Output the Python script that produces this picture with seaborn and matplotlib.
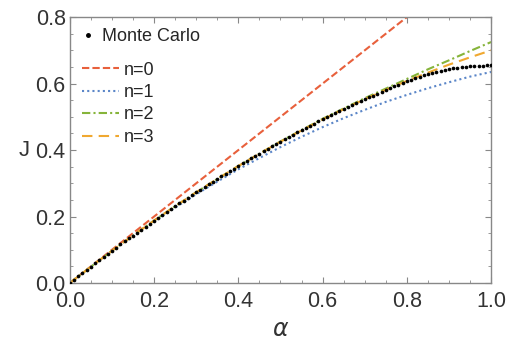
import seaborn as sns
import matplotlib.pyplot as plt
import pandas as pd
from matplotlib.ticker import MultipleLocator
from matplotlib.lines import Line2D

# Monte Carlo points (alpha step 0.01)
alpha_mc = [i / 100 for i in range(101)]
j_mc = [0.000, 0.010, 0.020, 0.030, 0.040, 0.049, 0.059, 0.069, 0.078, 0.088,
        0.097, 0.106, 0.116, 0.125, 0.134, 0.143, 0.152, 0.161, 0.170, 0.179,
        0.188, 0.197, 0.205, 0.214, 0.223, 0.231, 0.240, 0.248, 0.256, 0.265,
        0.273, 0.281, 0.289, 0.297, 0.305, 0.313, 0.321, 0.329, 0.337, 0.344,
        0.352, 0.360, 0.367, 0.375, 0.382, 0.389, 0.397, 0.404, 0.411, 0.418,
        0.425, 0.432, 0.439, 0.446, 0.453, 0.459, 0.466, 0.473, 0.479, 0.486,
        0.492, 0.498, 0.505, 0.511, 0.517, 0.523, 0.529, 0.535, 0.541, 0.547,
        0.553, 0.559, 0.564, 0.570, 0.576, 0.581, 0.587, 0.592, 0.597, 0.603,
        0.608, 0.612, 0.617, 0.621, 0.625, 0.629, 0.633, 0.636, 0.639, 0.642,
        0.644, 0.646, 0.648, 0.650, 0.651, 0.652, 0.653, 0.654, 0.654, 0.655,
        0.655]

# approximations n=0..3 (alpha step 0.05)
alpha = [0.00, 0.05, 0.10, 0.15, 0.20, 0.25, 0.30, 0.35, 0.40, 0.45, 0.50,
         0.55, 0.60, 0.65, 0.70, 0.75, 0.80, 0.85, 0.90, 0.95, 1.00]
j_n0 = [0.00, 0.05, 0.10, 0.15, 0.20, 0.25, 0.30, 0.35, 0.40, 0.45, 0.50,
        0.55, 0.60, 0.65, 0.70, 0.75, 0.80, 0.85, 0.90, 0.95, 1.00]
j_n1 = [0.000, 0.049, 0.096, 0.142, 0.185, 0.227, 0.267, 0.305, 0.342, 0.376,
        0.409, 0.440, 0.469, 0.496, 0.521, 0.545, 0.566, 0.586, 0.604, 0.621, 0.635]
j_n2 = [0.000, 0.049, 0.097, 0.143, 0.188, 0.231, 0.273, 0.313, 0.352, 0.389,
        0.426, 0.460, 0.494, 0.525, 0.556, 0.585, 0.614, 0.643, 0.670, 0.698, 0.725]
j_n3 = [0.000, 0.049, 0.097, 0.143, 0.188, 0.231, 0.273, 0.313, 0.352, 0.389,
        0.425, 0.459, 0.492, 0.523, 0.553, 0.581, 0.608, 0.633, 0.657, 0.679, 0.700]

labels = ["n=0", "n=1", "n=2", "n=3"]
colors = ["#e8603c", "#5b86c8", "#86b43a", "#f0a830"]
dashes = [(3.5, 1.5), (1, 1.5), (4, 1.5, 1, 1.5), (5, 3)]

sns.set_style("ticks")
plt.rcParams['font.family'] = ['Liberation Sans', 'DejaVu Sans']

fig = plt.figure(figsize=(5.17, 3.49), dpi=100)
ax = fig.add_axes([0.135, 0.189, 0.815, 0.762])

for lab, ys, c, d in zip(labels, [j_n0, j_n1, j_n2, j_n3], colors, dashes):
    sns.lineplot(x=alpha, y=ys, ax=ax, color=c, lw=1.5, dashes=False, label=lab)
    ax.lines[-1].set_dashes(d)

sns.scatterplot(x=alpha_mc, y=j_mc, ax=ax, color="black", s=7, linewidth=0, zorder=5)

ax.set_xlim(0, 1)
ax.set_ylim(0, 0.8)
ax.xaxis.set_major_locator(MultipleLocator(0.2))
ax.yaxis.set_major_locator(MultipleLocator(0.2))
ax.xaxis.set_minor_locator(MultipleLocator(0.05))
ax.yaxis.set_minor_locator(MultipleLocator(0.05))
ax.xaxis.set_major_formatter(plt.FormatStrFormatter('%.1f'))
ax.yaxis.set_major_formatter(plt.FormatStrFormatter('%.1f'))
ax.tick_params(which='both', direction='in', top=True, right=True, color='#888888',
               labelcolor='#333333', labelsize=15.5)
ax.tick_params(which='major', length=4)
ax.tick_params(which='minor', length=2)
ax.tick_params(axis='x', which='major', pad=6)
ax.tick_params(axis='y', which='major', pad=3)
for sp in ax.spines.values():
    sp.set_color('#888888')
    sp.set_linewidth(1.0)

ax.set_xlabel(r"$\alpha$", fontsize=17, color='#333333', labelpad=5)
ax.set_ylabel("J", fontsize=16, color='#333333', rotation=0, labelpad=8, va='center')

# legends
handles = [Line2D([], [], color=c, lw=1.5, dashes=d) for c, d in zip(colors, dashes)]
leg1 = ax.legend(handles, labels, loc='upper left', bbox_to_anchor=(0.0, 0.88),
                 frameon=False, fontsize=13, handlelength=2.0, handletextpad=0.3,
                 labelspacing=0.3, borderaxespad=0.3)
ax.add_artist(leg1)
mc_handle = Line2D([], [], color='black', marker='o', ms=2.5, lw=0)
ax.legend([mc_handle], ["Monte Carlo"], loc='upper left', frameon=False, fontsize=13,
          handlelength=0.8, handletextpad=0.4, borderaxespad=0.2)

fig.savefig("out.png", dpi=100)
